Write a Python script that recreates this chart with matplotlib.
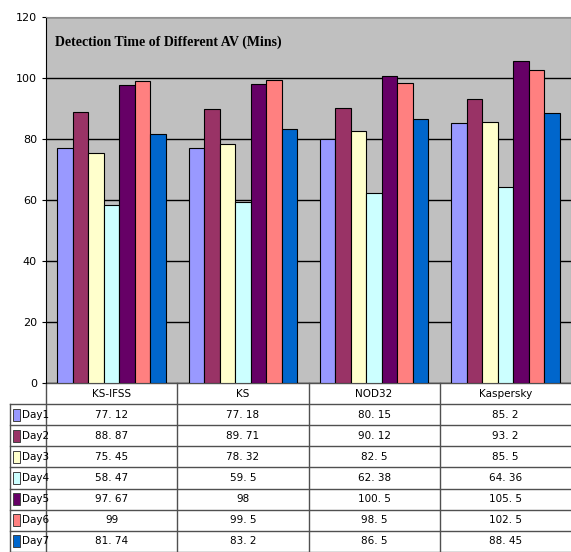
import matplotlib.pyplot as plt
from matplotlib.patches import Rectangle
from matplotlib.transforms import blended_transform_factory

products = ['KS-IFSS', 'KS', 'NOD32', 'Kaspersky']
days = ['Day1', 'Day2', 'Day3', 'Day4', 'Day5', 'Day6', 'Day7']
times = [
    [77.12, 77.18, 80.15, 85.2],
    [88.87, 89.71, 90.12, 93.2],
    [75.45, 78.32, 82.5, 85.5],
    [58.47, 59.5, 62.38, 64.36],
    [97.67, 98, 100.5, 105.5],
    [99, 99.5, 98.5, 102.5],
    [81.74, 83.2, 86.5, 88.45],
]
labels = [
    ['77. 12', '77. 18', '80. 15', '85. 2'],
    ['88. 87', '89. 71', '90. 12', '93. 2'],
    ['75. 45', '78. 32', '82. 5', '85. 5'],
    ['58. 47', '59. 5', '62. 38', '64. 36'],
    ['97. 67', '98', '100. 5', '105. 5'],
    ['99', '99. 5', '98. 5', '102. 5'],
    ['81. 74', '83. 2', '86. 5', '88. 45'],
]
colors = ['#9999FF', '#993366', '#FFFFCC', '#CCFFFF', '#660066', '#FF8080', '#0066CC']

fig = plt.figure(figsize=(5.71, 5.52), dpi=100)
ax = fig.add_axes([46 / 571, 1 - 383 / 552, 525 / 571, 366 / 552])
ax.set_facecolor('#C0C0C0')

w = 0.118
for i, d in enumerate(days):
    xs = [k + (i - 3) * w for k in range(len(products))]
    ax.bar(xs, times[i], width=w, color=colors[i], edgecolor='black', linewidth=0.8, zorder=3)

ax.set_xlim(-0.5, 3.5)
ax.set_ylim(0, 120)
ax.set_yticks(range(0, 121, 20))
ax.yaxis.grid(True, color='black', linewidth=1, zorder=1)
ax.set_xticks([])
ax.tick_params(axis='y', length=3, labelsize=8, colors='black')
for lab in ax.get_yticklabels():
    lab.set_fontfamily('Liberation Sans Narrow')
for s in ['top', 'right']:
    ax.spines[s].set_color('#909090')
ax.spines['bottom'].set_visible(False)

ax.text(0.017, 0.93, 'Detection Time of Different AV (Mins)', transform=ax.transAxes,
        fontsize=10, fontweight='bold', family='Liberation Serif', va='center')

# data table under the plot
tr = blended_transform_factory(ax.transData, ax.transAxes)
rh = 21.1 / 366
lab_left = -0.5 - 36 / 131
ln = dict(color='#505050', linewidth=1, clip_on=False, transform=tr)
ax.plot([-0.5, 3.5], [0, 0], **ln)
for r in range(1, 9):
    ax.plot([lab_left, 3.5], [-r * rh, -r * rh], **ln)
ax.plot([-0.5, -0.5], [0, -8 * rh], **ln)
ax.plot([lab_left, lab_left], [-rh, -8 * rh], **ln)
for k in range(1, len(products)):
    ax.plot([k - 0.5, k - 0.5], [0, -8 * rh], **ln)

tfont = dict(fontsize=7.5, family='Liberation Sans Narrow', transform=tr, ha='center', va='center')
for k, p in enumerate(products):
    ax.text(k, -0.5 * rh, p, **tfont)
for i, d in enumerate(days):
    y = -(i + 1.5) * rh
    for k in range(len(products)):
        ax.text(k, y, labels[i][k], **tfont)
    ax.add_patch(Rectangle((lab_left + 0.025, y - 0.016), 0.055, 0.032, facecolor=colors[i],
                           edgecolor='#404040', linewidth=0.7, transform=tr, clip_on=False))
    ax.text(lab_left + 0.09, y, d, fontsize=7.5, family='Liberation Sans Narrow',
            transform=tr, va='center', ha='left')

fig.savefig('out.png', dpi=100)
